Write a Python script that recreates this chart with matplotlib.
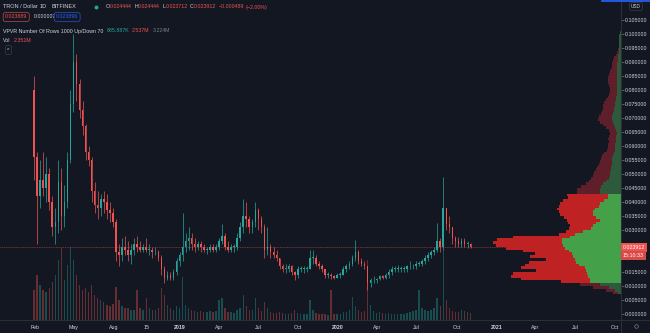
import matplotlib
matplotlib.use("Agg")
import numpy as np
import pandas as pd
import matplotlib.pyplot as plt
import matplotlib.dates as mdates
from matplotlib.lines import Line2D

# weekly candles (Bitfinex)
week_start = "2018-01-29"
first_open = 0.080
high = [0.085, 0.058, 0.055, 0.058, 0.056, 0.052, 0.042, 0.038, 0.055, 0.052,
        0.046, 0.058, 0.080, 0.100, 0.093, 0.084, 0.076, 0.068, 0.060, 0.056,
        0.047, 0.044, 0.043, 0.044, 0.043, 0.040, 0.038, 0.034, 0.025, 0.027,
        0.028, 0.026, 0.025, 0.027, 0.028, 0.026, 0.025, 0.027, 0.025, 0.024,
        0.024, 0.023, 0.021, 0.017, 0.0155, 0.015, 0.016, 0.020, 0.022, 0.036,
        0.029, 0.031, 0.029, 0.027, 0.026, 0.026, 0.025, 0.024, 0.025, 0.025,
        0.025, 0.027, 0.032, 0.029, 0.026, 0.025, 0.025, 0.029, 0.033, 0.041,
        0.040, 0.035, 0.034, 0.040, 0.038, 0.035, 0.032, 0.031, 0.025, 0.024,
        0.023, 0.020, 0.018, 0.018, 0.018, 0.0175, 0.0155, 0.017, 0.017, 0.017,
        0.017, 0.023, 0.023, 0.021, 0.019, 0.018, 0.016, 0.015, 0.0145, 0.014,
        0.0145, 0.015, 0.017, 0.018, 0.019, 0.021, 0.0265, 0.023, 0.020, 0.019,
        0.017, 0.013, 0.0135, 0.013, 0.014, 0.014, 0.0145, 0.016, 0.017, 0.017,
        0.0175, 0.017, 0.017, 0.0175, 0.019, 0.018, 0.019, 0.019, 0.0195, 0.021,
        0.022, 0.023, 0.024, 0.0325, 0.027, 0.049, 0.038, 0.035, 0.031, 0.028,
        0.0275, 0.027, 0.027, 0.026, 0.0252]
low = [0.048, 0.025, 0.038, 0.042, 0.040, 0.037, 0.028, 0.025, 0.029, 0.030,
       0.031, 0.038, 0.054, 0.072, 0.076, 0.070, 0.064, 0.055, 0.053, 0.040,
       0.036, 0.034, 0.035, 0.036, 0.034, 0.033, 0.031, 0.019, 0.017, 0.019,
       0.021, 0.019, 0.018, 0.021, 0.022, 0.022, 0.022, 0.022, 0.021, 0.020,
       0.021, 0.019, 0.014, 0.011, 0.012, 0.012, 0.012, 0.014, 0.017, 0.019,
       0.022, 0.023, 0.023, 0.022, 0.023, 0.022, 0.022, 0.0215, 0.022, 0.022,
       0.022, 0.023, 0.025, 0.023, 0.022, 0.022, 0.022, 0.023, 0.026, 0.029,
       0.031, 0.029, 0.029, 0.031, 0.030, 0.029, 0.020, 0.021, 0.020, 0.020,
       0.019, 0.016, 0.015, 0.0145, 0.015, 0.014, 0.012, 0.013, 0.015, 0.0145,
       0.015, 0.016, 0.018, 0.017, 0.016, 0.015, 0.013, 0.013, 0.0125, 0.0125,
       0.013, 0.013, 0.014, 0.015, 0.016, 0.017, 0.019, 0.018, 0.017, 0.016,
       0.0086, 0.0095, 0.011, 0.011, 0.012, 0.0125, 0.0125, 0.013, 0.014, 0.015,
       0.015, 0.015, 0.015, 0.015, 0.016, 0.016, 0.016, 0.017, 0.017, 0.018,
       0.019, 0.020, 0.021, 0.022, 0.022, 0.023, 0.030, 0.029, 0.025, 0.024,
       0.024, 0.024, 0.024, 0.0235, 0.0237]
close = [0.056, 0.042, 0.048, 0.045, 0.050, 0.040, 0.031, 0.033, 0.047, 0.035,
         0.040, 0.055, 0.075, 0.090, 0.082, 0.073, 0.067, 0.058, 0.055, 0.044,
         0.039, 0.038, 0.041, 0.040, 0.037, 0.036, 0.033, 0.022, 0.021, 0.024,
         0.023, 0.021, 0.023, 0.025, 0.024, 0.023, 0.024, 0.023, 0.023, 0.022,
         0.022, 0.020, 0.016, 0.013, 0.014, 0.013, 0.015, 0.019, 0.021, 0.024,
         0.026, 0.027, 0.025, 0.024, 0.025, 0.024, 0.023, 0.023, 0.024, 0.023,
         0.024, 0.026, 0.028, 0.024, 0.023, 0.024, 0.024, 0.027, 0.031, 0.035,
         0.034, 0.031, 0.033, 0.037, 0.034, 0.031, 0.023, 0.024, 0.022, 0.021,
         0.020, 0.017, 0.016, 0.016, 0.017, 0.015, 0.014, 0.016, 0.016, 0.016,
         0.016, 0.020, 0.020, 0.018, 0.017, 0.016, 0.014, 0.014, 0.0135, 0.013,
         0.014, 0.014, 0.016, 0.017, 0.018, 0.020, 0.022, 0.019, 0.018, 0.017,
         0.011, 0.012, 0.012, 0.0125, 0.0135, 0.013, 0.014, 0.015, 0.016, 0.016,
         0.016, 0.016, 0.016, 0.017, 0.017, 0.017, 0.018, 0.018, 0.019, 0.020,
         0.021, 0.022, 0.023, 0.026, 0.024, 0.038, 0.032, 0.031, 0.027, 0.026,
         0.025, 0.026, 0.025, 0.025, 0.0239]
volume = [30, 45, 35, 30, 28, 32, 38, 45, 60, 72,
          40, 55, 73, 60, 45, 35, 30, 32, 28, 35,
          25, 22, 20, 18, 15, 14, 16, 33, 20, 14,
          12, 12, 10, 10, 30, 12, 10, 22, 12, 10,
          10, 12, 32, 25, 15, 12, 10, 14, 12, 43,
          15, 12, 10, 9, 8, 9, 8, 8, 9, 8,
          9, 20, 22, 12, 8, 8, 7, 10, 12, 25,
          14, 10, 10, 22, 12, 9, 18, 12, 8, 7,
          7, 8, 7, 6, 6, 7, 10, 7, 6, 6,
          6, 20, 10, 7, 6, 6, 6, 5, 30, 6,
          6, 6, 8, 8, 10, 23, 14, 10, 8, 9,
          60, 15, 9, 7, 8, 7, 6, 7, 6, 6,
          6, 6, 6, 7, 8, 9, 10, 30, 12, 10,
          9, 10, 12, 22, 14, 70, 20, 12, 9, 8,
          8, 10, 9, 8, 7]
last_price = 0.023912

# visible range volume profile, rows 0.001 wide starting at 0.007
vp_bottom = 0.007
vp_step = 0.001
vp_up = [3, 6, 12, 21, 31, 31, 33, 34, 35, 36, 42, 45, 46, 48, 49, 52, 56, 58, 59, 59,
         51, 46, 38, 30, 28, 25, 21, 25, 28, 28, 26, 22, 21, 17, 13, 13, 21, 21, 20, 18,
         15, 12, 11, 11, 10, 10, 9, 9, 9, 8, 7, 6, 6, 6, 5, 5, 5, 4, 5, 6,
         7, 8, 9, 9, 8, 7, 7, 6, 6, 5, 5, 4, 4, 4, 4, 4, 4, 4, 4, 4,
         4, 4, 4, 3, 3, 3, 2, 2, 2, 2, 2, 2, 2, 1]
vp_down = [5, 9, 16, 20, 29, 69, 77, 74, 50, 64, 54, 47, 29, 43, 37, 46, 59, 67, 69, 65,
           57, 16, 17, 22, 23, 28, 33, 32, 33, 34, 38, 40, 40, 41, 40, 41, 23, 23, 20, 17,
           17, 18, 17, 16, 15, 14, 13, 12, 11, 11, 10, 8, 7, 7, 7, 8, 7, 7, 7, 9,
           11, 13, 14, 13, 12, 12, 11, 12, 11, 10, 8, 8, 7, 7, 8, 9, 9, 9, 8, 7,
           6, 5, 5, 5, 4, 2, 2, 1, 0, 0, 0, 0, 0, 0]
value_area = (0.011, 0.043)

price_ticks = np.arange(0, 0.1051, 0.005)
hidden_ticks = [0.020, 0.025]   # sit under the last-price labels
tick_dates = ["2018-02-01", "2018-05-01", "2018-08-01", "2018-10-15", "2019-01-01",
              "2019-04-01", "2019-07-01", "2019-10-01", "2020-01-01", "2020-04-01",
              "2020-07-01", "2020-10-01", "2021-01-01", "2021-04-01", "2021-07-01",
              "2021-10-01"]
tick_labels = ["Feb", "May", "Aug", "15", "2019", "Apr", "Jul", "Oct", "2020", "Apr",
               "Jul", "Oct", "2021", "Apr", "Jul", "Oct"]

BG = "#131722"
UP = "#26a69a"
DOWN = "#ef5350"
TXT = "#d1d4dc"
GREY = "#787b86"
LINE = "#2a2e39"

plt.rcParams["font.family"] = ["Liberation Sans", "DejaVu Sans"]
FS = 3.8
W, H = 650, 333
fig = plt.figure(figsize=(6.5, 3.33), dpi=100, facecolor=BG)
rect = [0, 13 / H, 621 / W, 320 / H]

ax_vol = fig.add_axes(rect, facecolor=BG)
ax = fig.add_axes(rect, facecolor="none")
ax_vp = fig.add_axes(rect, facecolor="none")

xlim = (mdates.date2num(pd.Timestamp("2017-11-11 08:00")),
        mdates.date2num(pd.Timestamp("2021-10-15 12:00")))
ylim = (-0.00214, 0.11214)

dates = pd.date_range(week_start, periods=len(close), freq="7D")
x = mdates.date2num(dates)
c = np.array(close)
o = np.r_[first_open, c[:-1]]
col = np.where(c >= o, UP, DOWN)

# volume
ax_vol.bar(x, volume, width=3.2, color=col, alpha=0.38, linewidth=0)
ax_vol.set_xlim(xlim)
ax_vol.set_ylim(0, 320)
ax_vol.axis("off")

# candles
ax.vlines(x, low, high, colors=col, linewidth=0.5)
ax.bar(x, np.maximum(np.abs(c - o), 0.0003), bottom=np.minimum(o, c), width=3.6,
       color=col, linewidth=0)
ax.axhline(last_price, color=DOWN, linewidth=0.5, linestyle=(0, (1.5, 1)), alpha=0.6, zorder=5)
ax.set_xlim(xlim)
ax.set_ylim(ylim)
for s in ax.spines.values():
    s.set_visible(False)
ax.yaxis.tick_right()
ax.set_yticks(price_ticks)
ax.set_yticklabels(["" if any(abs(t - h) < 1e-9 for h in hidden_ticks) else f"{t:.6f}"
                    for t in price_ticks])
ax.tick_params(axis="y", colors=GREY, labelcolor=TXT, labelsize=FS, length=2, width=0.5, pad=1)
ax.set_xticks(mdates.date2num(pd.to_datetime(tick_dates)))
ax.set_xticklabels(tick_labels)
ax.tick_params(axis="x", length=0, labelcolor=TXT, labelsize=FS, pad=3.5)
for lab in ax.get_xticklabels():
    if lab.get_text().isdigit() and len(lab.get_text()) == 4:
        lab.set_fontweight("bold")

# volume profile, anchored at the right edge
centers = vp_bottom + vp_step * (np.arange(len(vp_up)) + 0.5)
in_va = (centers > value_area[0]) & (centers < value_area[1])
up_col = np.where(in_va, "#45a149", "#2c5a3a")
dn_col = np.where(in_va, "#bf2222", "#5e1f2a")
ax_vp.barh(centers, vp_up, height=vp_step, left=0, color=up_col, linewidth=0)
ax_vp.barh(centers, vp_down, height=vp_step, left=vp_up, color=dn_col, linewidth=0)
ax_vp.set_xlim(621, 0)
ax_vp.set_ylim(ylim)
ax_vp.axis("off")

# frame lines
fig.add_artist(Line2D([621 / W, 621 / W], [0, 1], color=LINE, linewidth=0.8))
fig.add_artist(Line2D([0, 1], [13 / H, 13 / H], color=LINE, linewidth=0.8))
fig.add_artist(Line2D([602 / W, 1], [1 - 0.5 / H, 1 - 0.5 / H], color="#2962ff", linewidth=1.2))


def fx(px):
    return px / W


def fy(py):
    return 1 - py / H


# price labels on the scale
fig.text(fx(623), fy(247.5), f"{last_price:.6f}", color="white", fontsize=FS, va="center",
         bbox=dict(boxstyle="square,pad=0.35", facecolor=DOWN, edgecolor="none"))
fig.text(fx(623), fy(255.5), "15:10:33", color="white", fontsize=FS, va="center",
         bbox=dict(boxstyle="square,pad=0.35", facecolor="#d84a48", edgecolor="none"))
fig.text(fx(636), fy(6.5), "USD", color=TXT, fontsize=FS - 0.4, va="center", ha="center",
         bbox=dict(boxstyle="round,pad=0.3", facecolor=BG, edgecolor="#434651", linewidth=0.4))
ax_vp.plot([0.979], [0.02], transform=fig.transFigure, marker="o", markersize=2.6,
           markerfacecolor="none", markeredgecolor=GREY, markeredgewidth=0.5, clip_on=False)

# legend header
renderer = fig.canvas.get_renderer()


def pieces(px, py, parts):
    for s, color, gap in parts:
        t = fig.text(fx(px), fy(py), s, color=color, fontsize=FS, va="center", ha="left")
        px += t.get_window_extent(renderer=renderer).width + gap


fig.text(fx(3), fy(7), "TRON / Dollar", color=TXT, fontsize=FS + 0.2, va="center")
fig.text(fx(40), fy(7), "1D", color=TXT, fontsize=FS + 0.2, va="center")
fig.text(fx(51), fy(7), "BITFINEX", color=TXT, fontsize=FS + 0.2, va="center")
ax_vp.plot([fx(96.5)], [fy(7)], transform=fig.transFigure, marker="o", markersize=2.8,
           color="#22ab94", markeredgewidth=0, clip_on=False)
pieces(106, 7, [("O", TXT, 0), ("0.024444", DOWN, 2.5), ("H", TXT, 0), ("0.024444", DOWN, 2.5),
                ("L", TXT, 0), ("0.023712", DOWN, 2.5), ("C", TXT, 0), ("0.023912", DOWN, 2.5),
                ("\u22120.000489", DOWN, 2), ("(\u22122.00%)", DOWN, 0)])

fig.text(fx(5), fy(17), "0.023889", color=DOWN, fontsize=FS, va="center",
         bbox=dict(boxstyle="round,pad=0.35", facecolor=BG, edgecolor=DOWN, linewidth=0.4))
fig.text(fx(34), fy(17), "0.000007", color=TXT, fontsize=FS, va="center")
fig.text(fx(56), fy(17), "0.023896", color="#2962ff", fontsize=FS, va="center",
         bbox=dict(boxstyle="round,pad=0.35", facecolor=BG, edgecolor="#2962ff", linewidth=0.4))

pieces(3, 31, [("VPVR Number Of Rows 1000 Up/Down 70", TXT, 3), ("685.887K", UP, 3),
               ("2.537M", DOWN, 3), ("3.224M", GREY, 0)])
pieces(3, 41, [("Vol", TXT, 3), ("2.351M", DOWN, 0)])
fig.text(fx(8.5), fy(50), "^", color=TXT, fontsize=FS, va="center", ha="center",
         bbox=dict(boxstyle="round,pad=0.35", facecolor=BG, edgecolor="#434651", linewidth=0.4))

fig.savefig("out.png", dpi=100, facecolor=BG)
